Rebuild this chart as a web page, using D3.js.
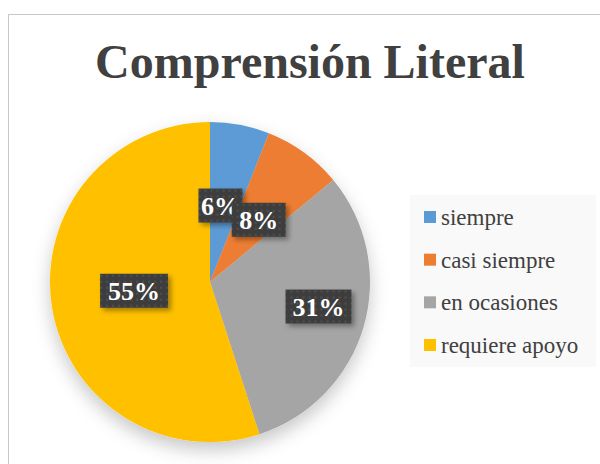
<!DOCTYPE html>
<html>
<head>
<meta charset="utf-8">
<script src="https://cdn.jsdelivr.net/npm/d3@7"></script>
<style>
  body { margin: 0; background: #fff; }
  text { font-family: "Liberation Serif", "Times New Roman", serif; }
</style>
</head>
<body>
<div id="chart"></div>
<script>
// data
var categories = ["siempre", "casi siempre", "en ocasiones", "requiere apoyo"];
var values = [6, 8, 31, 55];
var colors = ["#5b9bd5", "#ed7d31", "#a5a5a5", "#ffc000"];
var title = "Comprensión Literal";

var svgWidth = 600;
var svgHeight = 464;

var svg = d3.select("#chart")
  .append("svg")
  .attr("width", svgWidth)
  .attr("height", svgHeight);

var defs = svg.append("defs");

// soft shadow for pie + labels
var shadow = defs.append("filter")
  .attr("id", "pieShadow")
  .attr("x", "-30%").attr("y", "-30%")
  .attr("width", "160%").attr("height", "160%");
shadow.append("feDropShadow")
  .attr("dx", 0).attr("dy", 8)
  .attr("stdDeviation", 9)
  .attr("flood-color", "#000")
  .attr("flood-opacity", 0.22);

var boxShadow = defs.append("filter")
  .attr("id", "boxShadow")
  .attr("x", "-30%").attr("y", "-30%")
  .attr("width", "160%").attr("height", "160%");
boxShadow.append("feDropShadow")
  .attr("dx", 3).attr("dy", 3)
  .attr("stdDeviation", 2.5)
  .attr("flood-color", "#000")
  .attr("flood-opacity", 0.35);

// dotted dark texture for the label boxes
var pat = defs.append("pattern")
  .attr("id", "dots")
  .attr("width", 6).attr("height", 6)
  .attr("patternUnits", "userSpaceOnUse");
pat.append("rect").attr("width", 6).attr("height", 6).attr("fill", "#3e3e3e");
pat.append("circle").attr("cx", 3).attr("cy", 3).attr("r", 1).attr("fill", "#555");

// chart border (runs off the right and bottom)
svg.append("rect")
  .attr("x", 8.5).attr("y", 14.5)
  .attr("width", 620).attr("height", 470)
  .attr("fill", "#fff")
  .attr("stroke", "#c8c8c8")
  .attr("stroke-width", 1);

// title
svg.append("text")
  .attr("x", 310)
  .attr("y", 78)
  .attr("text-anchor", "middle")
  .style("font-size", "48px")
  .style("font-weight", "bold")
  .style("fill", "#404040")
  .text(title);

// pie
var cx = 210, cy = 282, radius = 160;

var pie = d3.pie().sort(null).value(d => d);
var arcs = pie(values);
var arc = d3.arc().innerRadius(0).outerRadius(radius);

var pieGroup = svg.append("g")
  .attr("transform", `translate(${cx}, ${cy})`);

pieGroup.append("g")
  .attr("filter", "url(#pieShadow)")
  .selectAll("path")
  .data(arcs)
  .enter()
  .append("path")
  .attr("d", arc)
  .attr("fill", (d, i) => colors[i]);

// data labels (positions nudged like the excel ones)
var labelArc = d3.arc().innerRadius(radius * 0.55).outerRadius(radius * 0.55);
var nudge = [[-6, 10], [-3, 9], [24, 0], [11, -5]];
var boxW = [44, 54, 66, 68];

var labels = pieGroup.selectAll(".lbl")
  .data(arcs)
  .enter()
  .append("g")
  .attr("class", "lbl")
  .attr("transform", (d, i) => {
    var c = labelArc.centroid(d);
    return `translate(${c[0] + nudge[i][0]}, ${c[1] + nudge[i][1]})`;
  });

labels.append("rect")
  .attr("x", (d, i) => -boxW[i] / 2)
  .attr("y", -17)
  .attr("width", (d, i) => boxW[i])
  .attr("height", 34)
  .attr("fill", "url(#dots)")
  .attr("filter", "url(#boxShadow)");

labels.append("text")
  .attr("text-anchor", "middle")
  .attr("dy", "0.35em")
  .style("font-size", "26px")
  .style("font-weight", "bold")
  .style("fill", "#fff")
  .text(d => d.data + "%");

// legend
var legend = svg.append("g").attr("transform", "translate(410, 195)");
legend.append("rect")
  .attr("width", 186).attr("height", 172)
  .attr("fill", "#f9f9f9");

var legendY = d3.scalePoint()
  .domain(categories)
  .range([22, 150]);

var items = legend.selectAll(".item")
  .data(categories)
  .enter()
  .append("g")
  .attr("class", "item")
  .attr("transform", d => `translate(14, ${legendY(d)})`);

items.append("rect")
  .attr("x", 0).attr("y", -6)
  .attr("width", 12).attr("height", 12)
  .attr("fill", (d, i) => colors[i]);

items.append("text")
  .attr("x", 17)
  .attr("dy", "0.35em")
  .style("font-size", "23px")
  .style("fill", "#404040")
  .text(d => d);
</script>
</body>
</html>
